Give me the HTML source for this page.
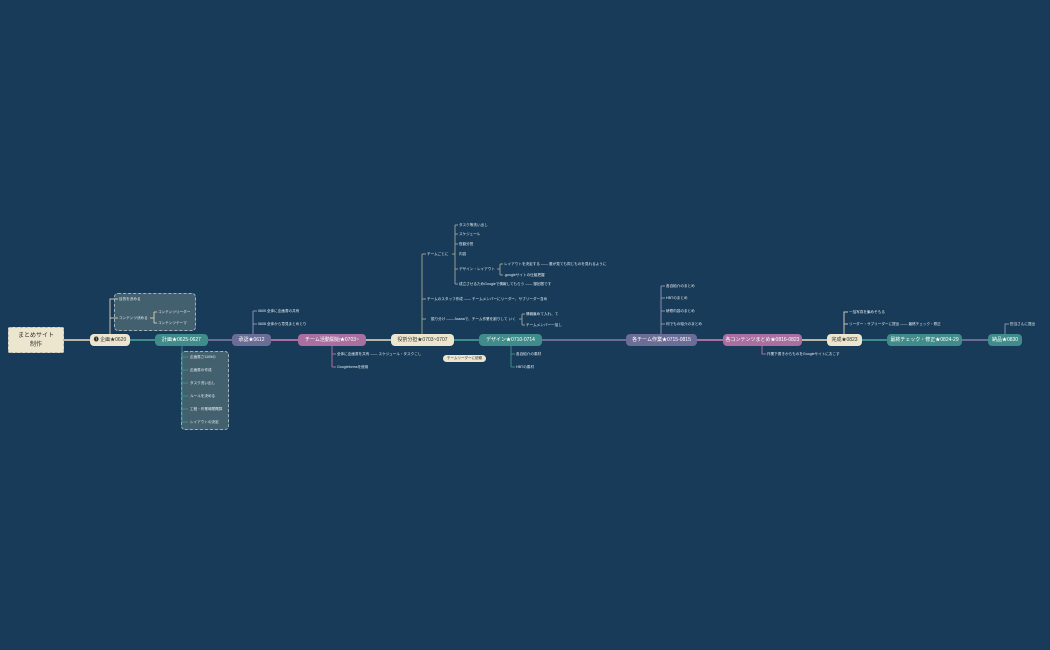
<!DOCTYPE html>
<html><head><meta charset="utf-8"><style>
body{margin:0;width:1050px;height:650px;background:#173b58;overflow:hidden;position:relative;font-family:"Liberation Sans","Noto Sans CJK JP",sans-serif}
.n{position:absolute;height:12px;line-height:12px;font-size:5px;color:#fff;text-align:center;border-radius:4px;white-space:nowrap}
.c{background:#ece6cf;color:#333}.t{background:#3f8c8a}.s{background:#6b6d96}.p{background:#a86fa0}
.x{position:absolute;font-size:3.6px;color:#e8eef2;white-space:nowrap;line-height:5px}
.box{position:absolute;background:#43606f;border:1px dashed #9fb3bd;border-radius:4px}
</style></head><body>
<div class="box" style="left:114px;top:293px;width:80px;height:36px"></div>
<div class="box" style="left:181px;top:351px;width:46px;height:77px"></div>
<svg width="1050" height="650" style="position:absolute;left:0;top:0" fill="none" stroke-width="1">
<g stroke-width="2">
<line x1="64" y1="340" x2="90" y2="340" stroke="#b8b6a6"/>
<line x1="130" y1="340" x2="155" y2="340" stroke="#3f8c8a"/>
<line x1="208" y1="340" x2="232" y2="340" stroke="#6b6d96"/>
<line x1="271" y1="340" x2="298" y2="340" stroke="#a86fa0"/>
<line x1="366" y1="340" x2="391" y2="340" stroke="#b8b6a6"/>
<line x1="454" y1="340" x2="479" y2="340" stroke="#3f8c8a"/>
<line x1="542" y1="340" x2="626" y2="340" stroke="#6b6d96"/>
<line x1="697" y1="340" x2="723" y2="340" stroke="#a86fa0"/>
<line x1="802" y1="340" x2="827" y2="340" stroke="#b8b6a6"/>
<line x1="862" y1="340" x2="887" y2="340" stroke="#3f8c8a"/>
<line x1="962" y1="340" x2="988" y2="340" stroke="#6b6d96"/>
</g>
<g stroke="#c9c5b2"><path d="M110 336V299H118M110 318H118M150 318H154M154 312V323M154 312H157M154 323H157"/></g>
<g stroke="#3f8c8a"><path d="M182 346V422M182 357H188M182 370H188M182 383H188M182 396H188M182 409H188M182 422H188"/></g>
<g stroke="#8a8cb0"><path d="M253 336V311M253 311H257M253 324H257"/></g>
<g stroke="#a86fa0"><path d="M332 346V367M332 354H336M332 367H336"/></g>
<g stroke="#9a9a90"><path d="M422 335V254M422 254H426M422 299H426M422 319H426M455 225V284M452 254H455M455 225H458M455 234H458M455 244H458M455 269H458M455 284H458M497 269H500M500 264V275M500 264H503M500 275H503M522 314V325M519 319H522M522 314H525M522 325H525"/></g>
<g stroke="#3f8c8a"><path d="M511 346V367M511 354H515M511 367H515"/></g>
<g stroke="#8a8cb0"><path d="M661 335V286M661 286H665M661 298H665M661 311H665M661 324H665"/></g>
<g stroke="#a86fa0"><path d="M762 346V354H766"/></g>
<g stroke="#c9c5b2"><path d="M844 335V312H848M844 324H848"/></g>
<g stroke="#8a8cb0"><path d="M1005 335V324H1009"/></g>
</svg>
<div class="n c" style="left:8px;top:327px;width:56px;height:26px;line-height:9px;padding-top:4px;box-sizing:border-box;font-size:6px;border:1px dashed #bbb;border-radius:2px">まとめサイト<br>制作</div>
<div class="n c" style="left:90px;top:334px;width:40px">❶ 企画★0620</div>
<div class="n t" style="left:155px;top:334px;width:53px">計画★0625-0627</div>
<div class="n s" style="left:232px;top:334px;width:39px">承認★0612</div>
<div class="n p" style="left:298px;top:334px;width:68px">チーム活動開始★0703~</div>
<div class="n c" style="left:391px;top:334px;width:63px">役割分担★0703~0707</div>
<div class="n t" style="left:479px;top:334px;width:63px">デザイン★0710-0714</div>
<div class="n s" style="left:626px;top:334px;width:71px">各チーム作業★0715-0815</div>
<div class="n p" style="left:723px;top:334px;width:79px">各コンテンツまとめ★0816-0823</div>
<div class="n c" style="left:827px;top:334px;width:35px">完成★0823</div>
<div class="n t" style="left:887px;top:334px;width:75px">最終チェック・修正★0824-29</div>
<div class="n t" style="left:988px;top:334px;width:34px">納品★0830</div>
<div class="n c" style="left:443px;top:355px;width:43px;height:7px;line-height:7px;font-size:3.5px">チームリーダーに依頼</div>
<div class="x" style="left:119px;top:297px">目的を決める</div>
<div class="x" style="left:119px;top:316px">コンテンツ決める</div>
<div class="x" style="left:158px;top:310px">コンテンツリーダー</div>
<div class="x" style="left:158px;top:321px">コンテンツテーマ</div>
<div class="x" style="left:190px;top:355px">企画書さ1109の</div>
<div class="x" style="left:190px;top:368px">企画書の作成</div>
<div class="x" style="left:190px;top:381px">タスク洗い出し</div>
<div class="x" style="left:190px;top:394px">ルールを決める</div>
<div class="x" style="left:190px;top:407px">工程・作業時間概算</div>
<div class="x" style="left:190px;top:420px">レイアウトの決定</div>
<div class="x" style="left:258px;top:309px">0605 全体に企画書の共有</div>
<div class="x" style="left:258px;top:322px">0608 全体から意見まとめとり</div>
<div class="x" style="left:337px;top:352px">全体に企画書を共有 —— スケジュール・タスクこし</div>
<div class="x" style="left:337px;top:365px">Googleformsを使用</div>
<div class="x" style="left:427px;top:252px">チームごとに</div>
<div class="x" style="left:459px;top:223px">タスク等洗い出し</div>
<div class="x" style="left:459px;top:232px">スケジュール</div>
<div class="x" style="left:459px;top:242px">役割分担</div>
<div class="x" style="left:459px;top:252px">内容</div>
<div class="x" style="left:459px;top:267px">デザイン・レイアウト</div>
<div class="x" style="left:504px;top:262px">レイアウトを決定する —— 誰が見ても同じものを見れるように</div>
<div class="x" style="left:504px;top:273px">.googleサイトの仕組把握</div>
<div class="x" style="left:459px;top:282px">成立させるためGoogleで情報してもらう —— 御回答です</div>
<div class="x" style="left:427px;top:297px">チームのスタッフ作成 —— チームメンバーにリーダー、サブリーダー含め</div>
<div class="x" style="left:431px;top:317px">振り分け —— Asanaで、チーム作業を割りして いく</div>
<div class="x" style="left:526px;top:312px">情報集めて入れ、て</div>
<div class="x" style="left:526px;top:323px">チームメンバー一括し</div>
<div class="x" style="left:516px;top:352px">各自紹介の素材</div>
<div class="x" style="left:516px;top:365px">HBTの素材</div>
<div class="x" style="left:666px;top:284px">各自紹介のまとめ</div>
<div class="x" style="left:666px;top:296px">HBTのまとめ</div>
<div class="x" style="left:666px;top:309px">研修内容のまとめ</div>
<div class="x" style="left:666px;top:322px">何でもの紹介のまとめ</div>
<div class="x" style="left:767px;top:352px">作業下書きからものをGoogleサイトにおこす</div>
<div class="x" style="left:849px;top:310px">一括写真を集めそもる</div>
<div class="x" style="left:849px;top:322px">リーダー・サブリーダーに提出 —— 最終チェック・修正</div>
<div class="x" style="left:1010px;top:322px">担当さんに提出</div>
</body></html>
